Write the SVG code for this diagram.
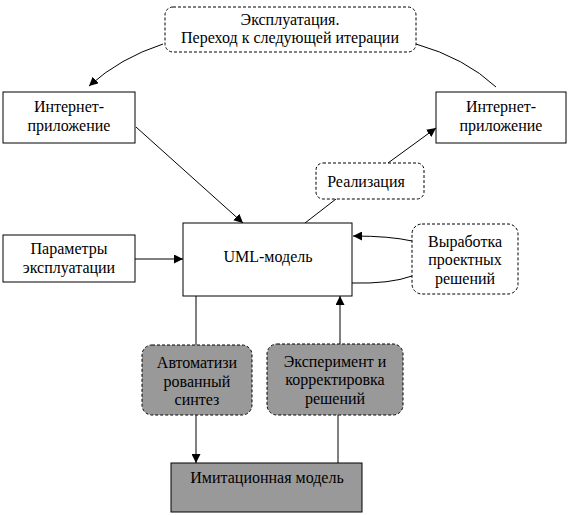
<svg xmlns="http://www.w3.org/2000/svg" width="570" height="515" viewBox="0 0 570 515">
<style>
text{font-family:'Liberation Serif','DejaVu Serif',serif;font-size:16px;fill:#000;text-anchor:middle}
.box{fill:#fff;stroke:#000;stroke-width:1}
.dash{fill:#fff;stroke:#000;stroke-width:1;stroke-dasharray:3,2}
.gdash{fill:#999;stroke:#000;stroke-width:1;stroke-dasharray:3,2}
.gbox{fill:#999;stroke:#000;stroke-width:1}
.ln{fill:none;stroke:#000;stroke-width:1}
</style>
<defs>
<marker id="ah" viewBox="0 0 10 10" refX="10" refY="5" markerWidth="9" markerHeight="9" markerUnits="userSpaceOnUse" orient="auto">
<path d="M0,0 L10,5 L0,10 z" fill="#000"/>
</marker>
</defs>
<rect width="570" height="515" fill="#fff"/>
<g id="connectors">
<path class="ln" d="M163,44 Q120,58 89,86" marker-end="url(#ah)"/>
<path class="ln" d="M416,44 Q465,58 496,87"/>
<path class="ln" d="M136,127 L243,223" marker-end="url(#ah)"/>
<path class="ln" d="M388,163 L436,128" marker-end="url(#ah)"/>
<path class="ln" d="M336,199 L305,223"/>
<path class="ln" d="M135,259 L183,259" marker-end="url(#ah)"/>
<path class="ln" d="M412,241 Q390,236 353,236" marker-end="url(#ah)"/>
<path class="ln" d="M352,283 Q390,284 412,276"/>
<path class="ln" d="M196,296 L196,345"/>
<path class="ln" d="M196,415 L196,463" marker-end="url(#ah)"/>
<path class="ln" d="M340,344 L340,296" marker-end="url(#ah)"/>
<path class="ln" d="M338,415 L338,463"/>
</g>
<g id="n-exploit">
<rect class="dash" x="165" y="7" width="251" height="45" rx="8"/>
<text x="290" y="25">Эксплуатация.</text>
<text x="290" y="43">Переход к следующей итерации</text>
</g>
<g id="n-inet-left">
<rect class="box" x="3" y="92" width="132" height="51"/>
<text x="69" y="112">Интернет-</text>
<text x="69" y="131">приложение</text>
</g>
<g id="n-inet-right">
<rect class="box" x="436" y="92" width="130" height="51"/>
<text x="501" y="112">Интернет-</text>
<text x="501" y="131">приложение</text>
</g>
<g id="n-real">
<rect class="dash" x="316" y="163" width="108" height="36" rx="7"/>
<text x="366" y="187">Реализация</text>
</g>
<g id="n-params">
<rect class="box" x="3" y="235" width="132" height="47"/>
<text x="69" y="254">Параметры</text>
<text x="69" y="273">эксплуатации</text>
</g>
<g id="n-uml">
<rect class="box" x="183" y="223" width="169" height="73"/>
<text x="268" y="262">UML-модель</text>
</g>
<g id="n-design">
<rect class="dash" x="412" y="224" width="106" height="70" rx="10"/>
<text x="465" y="247">Выработка</text>
<text x="465" y="265">проектных</text>
<text x="465" y="284">решений</text>
</g>
<g id="n-synth">
<rect class="gdash" x="142" y="345" width="110" height="70" rx="10"/>
<text x="197" y="368">Автоматизи</text>
<text x="197" y="387">рованный</text>
<text x="197" y="405">синтез</text>
</g>
<g id="n-exp">
<rect class="gdash" x="267" y="344" width="136" height="71" rx="10"/>
<text x="335" y="367">Эксперимент и</text>
<text x="335" y="385">корректировка</text>
<text x="335" y="404">решений</text>
</g>
<g id="n-sim">
<rect class="gbox" x="171" y="463" width="191" height="49"/>
<text x="267" y="483">Имитационная модель</text>
</g>
</svg>
